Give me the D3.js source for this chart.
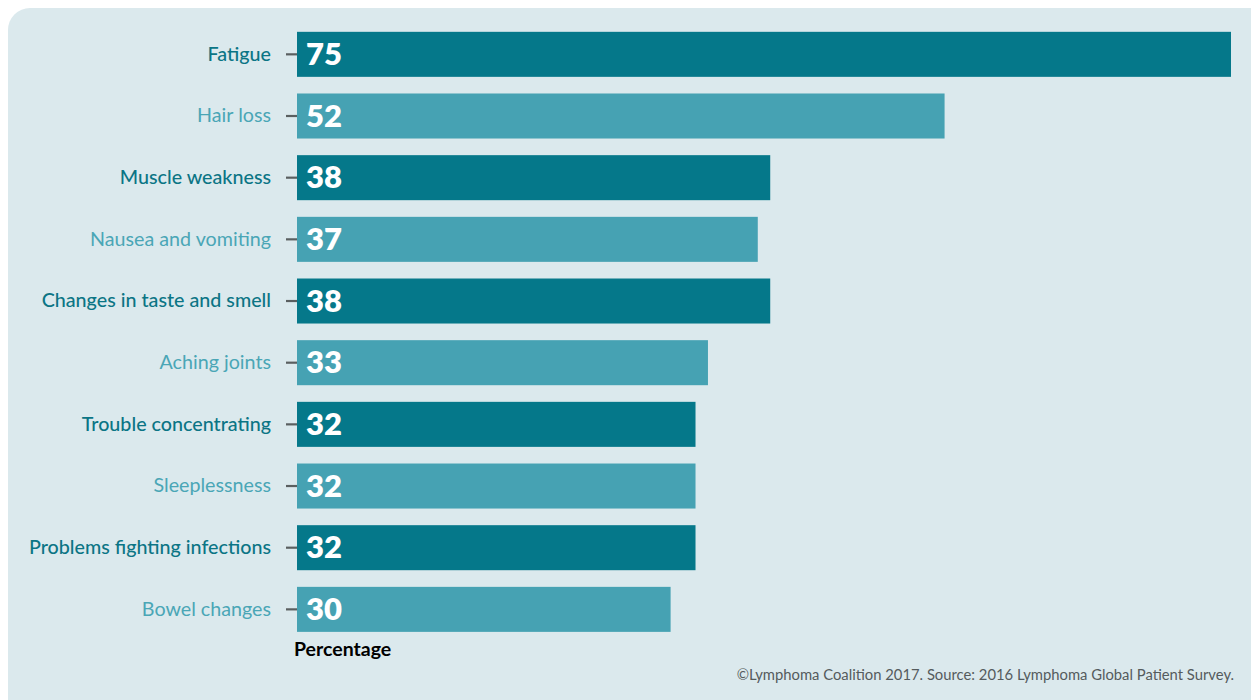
<!DOCTYPE html>
<html>
<head>
<meta charset="utf-8">
<script src="https://cdn.jsdelivr.net/npm/d3@7"></script>
<style>
  html, body { margin: 0; padding: 0; background: #ffffff; }
  svg { display: block; }
</style>
</head>
<body>
<svg id="chart" width="1251" height="700"></svg>
<script>
// Side effects reported by patients
const categories = [
  "Fatigue",
  "Hair loss",
  "Muscle weakness",
  "Nausea and vomiting",
  "Changes in taste and smell",
  "Aching joints",
  "Trouble concentrating",
  "Sleeplessness",
  "Problems fighting infections",
  "Bowel changes"
];
const values = [75, 52, 38, 37, 38, 33, 32, 32, 32, 30];
const axisTitle = "Percentage";
const footnote = "\u00A9Lymphoma Coalition 2017. Source: 2016 Lymphoma Global Patient Survey.";

const dark = "#05788a";
const light = "#46a2b3";
const labelDark = "#0b7585";
const labelLight = "#4aa6b6";

const svg = d3.select("#chart");
const W = 1251, H = 700;
const font = "Lato, 'Open Sans', sans-serif";

// rounded background panel
svg.append("rect")
  .attr("x", 8).attr("y", 8)
  .attr("width", W + 20).attr("height", H + 20)
  .attr("rx", 22).attr("ry", 22)
  .attr("fill", "#dbe9ed");

const margin = { left: 297, top: 23.5 };
const x = d3.scaleLinear().domain([0, 75]).range([margin.left, 1231]);
const y = d3.scaleBand()
  .domain(categories)
  .range([margin.top, margin.top + 61.67 * categories.length])
  .paddingInner(0.27)
  .paddingOuter(0.135);

const g = svg.append("g");

// bars
g.selectAll("rect.bar")
  .data(categories)
  .join("rect")
  .attr("class", "bar")
  .attr("x", x(0))
  .attr("y", d => y(d))
  .attr("width", (d, i) => x(values[i]) - x(0))
  .attr("height", y.bandwidth())
  .attr("fill", (d, i) => i % 2 === 0 ? dark : light);

// value labels inside bars
g.selectAll("text.val")
  .data(categories)
  .join("text")
  .attr("class", "val")
  .attr("x", x(0) + 9)
  .attr("y", d => y(d) + y.bandwidth() / 2)
  .attr("dy", "0.34em")
  .attr("fill", "#ffffff")
  .attr("font-family", font)
  .attr("font-weight", 800)
  .attr("font-size", 31)
  .text((d, i) => values[i]);

// category axis
const axis = svg.append("g")
  .attr("transform", `translate(${x(0)},0)`)
  .call(d3.axisLeft(y).tickSize(11).tickPadding(15));
axis.select(".domain").remove();
axis.selectAll(".tick line")
  .attr("stroke", "#5a5f60")
  .attr("stroke-width", 2.2);
axis.selectAll(".tick text")
  .attr("font-family", font)
  .attr("font-size", 19.7)
  .attr("font-weight", (d, i) => i % 2 === 0 ? 500 : 400)
  .attr("fill", (d, i) => i % 2 === 0 ? labelDark : labelLight)
  .attr("dy", "0.32em");

// axis title
svg.append("text")
  .attr("x", 294)
  .attr("y", 656)
  .attr("font-family", font)
  .attr("font-weight", 700)
  .attr("font-size", 19.5)
  .attr("fill", "#000000")
  .text(axisTitle);

// source note
svg.append("text")
  .attr("x", 1234)
  .attr("y", 680)
  .attr("text-anchor", "end")
  .attr("font-family", font)
  .attr("font-size", 14.8)
  .attr("fill", "#555b5d")
  .text(footnote);
</script>
</body>
</html>
